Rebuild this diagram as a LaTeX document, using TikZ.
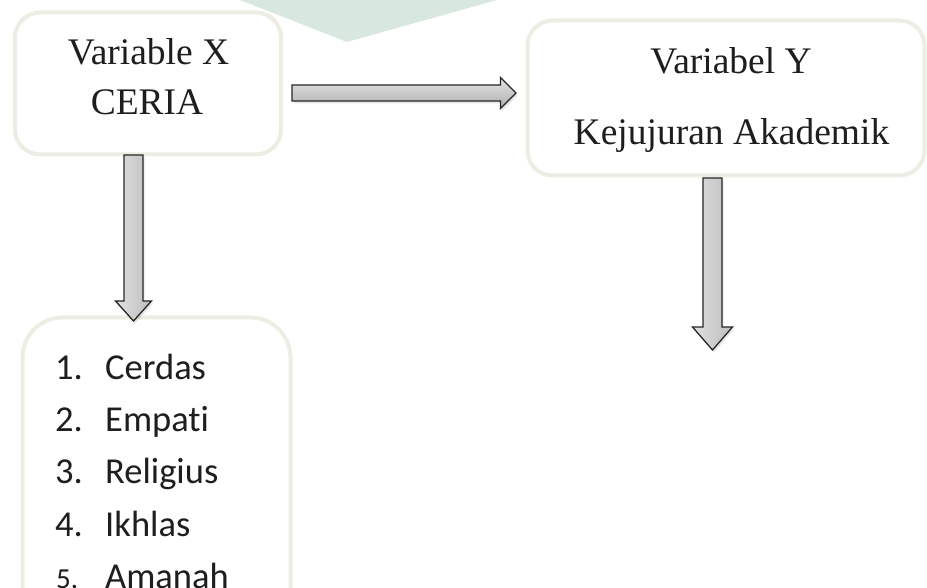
\documentclass[tikz,border=0pt]{standalone}
\usepackage{fontspec}
\setmainfont{Liberation Serif}
\newfontfamily\listfont[Ligatures=NoCommon]{Carlito}
\usetikzlibrary{calc,shadows}
\definecolor{boxline}{RGB}{237,237,227}
\definecolor{wmgreen}{RGB}{216,232,222}
\definecolor{txt}{RGB}{30,30,30}
\tikzset{
  boxshape/.style={draw=boxline, line width=4pt, fill=white, rounded corners=25pt, inner sep=0pt},
  serifline/.style={anchor=base, inner sep=0pt, font=\fontsize{37.5}{44}\selectfont, text=txt},
  listitem/.style={anchor=base west, inner sep=0pt, font=\listfont\fontsize{36.5}{44}\selectfont, text=txt},
  arrowbody/.style={draw=black!85, line width=1.3pt, line join=miter,
    drop shadow={shadow xshift=1.5pt, shadow yshift=-2.5pt, opacity=0.22, fill=black!45}},
}
% #1 tail, #2 tip, #3 shaft half width, #4 head half width, #5 head length
\newcommand{\rightblock}[5]{%
  \path[arrowbody, top color=black!10, bottom color=black!32] let \p1=(#1), \p2=(#2) in
    (\x1,\y1+#3) -- (\x2-#5,\y1+#3) -- (\x2-#5,\y1+#4) -- (\x2,\y1)
    -- (\x2-#5,\y1-#4) -- (\x2-#5,\y1-#3) -- (\x1,\y1-#3) -- cycle;}
\newcommand{\downblock}[5]{%
  \path[arrowbody, left color=black!12, right color=black!26] let \p1=(#1), \p2=(#2) in
    (\x1-#3,\y1) -- (\x1+#3,\y1) -- (\x1+#3,\y2+#5) -- (\x1+#4,\y2+#5) -- (\x1,\y2)
    -- (\x1-#4,\y2+#5) -- (\x1-#3,\y2+#5) -- cycle;}
\begin{document}
\begin{tikzpicture}[x=1pt,y=-1pt]
\useasboundingbox (0,0) rectangle (927,588);
\clip (0,0) rectangle (927,588);
% faint watermark shape
\fill[wmgreen] (240,0) -- (347,42) -- (497,0) -- cycle;
% boxes
\node[boxshape, minimum width=266pt, minimum height=142pt] (X) at (148,83.5) {};
\node[boxshape, minimum width=397pt, minimum height=155pt] (Y) at (726,98) {};
\node[boxshape, rounded corners=40pt, minimum width=268pt, minimum height=322pt] (L) at (156.5,478.5) {};
% texts
\node[serifline] (xl1) at (148.5,65) {Variable X};
\node[serifline] (xl2) at (147,115) {CERIA};
\node[serifline] (yl1) at (731,74) {Variabel Y};
\node[serifline] (yl2) at (731.5,145) {Kejujuran Akademik};
\node[listitem] (n1) at (55,379) {1.};
\node[listitem] (i1) at (105,379) {Cerdas};
\node[listitem] (n2) at (55,431) {2.};
\node[listitem] (i2) at (105,431) {Empati};
\node[listitem] (n3) at (55,483) {3.};
\node[listitem] (i3) at (105,483) {Religius};
\node[listitem] (n4) at (55,536) {4.};
\node[listitem] (i4) at (105,536) {Ikhlas};
\node[listitem, font=\listfont\fontsize{29}{34}\selectfont] (n5) at (56,588) {5.};
\node[listitem] (i5) at (105,588) {Amanah};
% arrows
\coordinate (h1) at ($(X.east)+(9,9.5)$);
\coordinate (h2) at ($(Y.west)+(-9.5,-5)$);
\rightblock{h1}{h2}{8pt}{15.5pt}{15.5pt}
\coordinate (v1) at ($(X.south)+(-14.5,-1.5)$);
\coordinate (v2) at ($(L.north)+(-22.5,5.5)$);
\downblock{v1}{v2}{9.5pt}{18pt}{20pt}
\coordinate (w1) at ($(Y.south)+(-13.5,0.5)$);
\coordinate (w2) at (712.5,350);
\downblock{w1}{w2}{9.5pt}{20pt}{23pt}
\end{tikzpicture}
\end{document}
